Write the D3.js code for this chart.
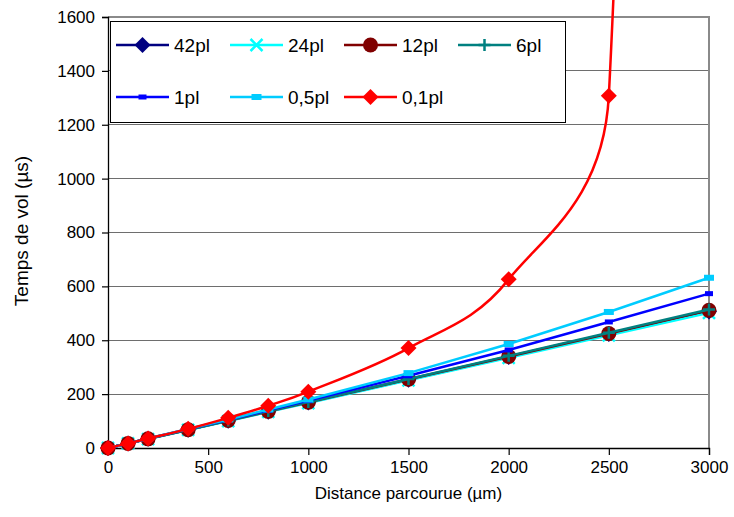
<!DOCTYPE html>
<html>
<head>
<meta charset="utf-8">
<script src="https://cdn.jsdelivr.net/npm/d3@7"></script>
<style>
  html, body { margin: 0; padding: 0; background: #fff; }
  svg { display: block; font-family: Arial, "Liberation Sans", sans-serif; }
</style>
</head>
<body>
<svg id="chart" width="734" height="517"></svg>
<script>
// ---------- data ----------
const distances = [0, 100, 200, 400, 600, 800, 1000, 1500, 2000, 2500, 3000];
const pl42  = [0, 17, 34, 68, 101, 135, 169, 253, 338, 423, 507];
const pl24  = [0, 17, 33, 67, 100, 134, 167, 251, 335, 418, 502];
const pl12  = [0, 17, 34, 68, 102, 136, 170, 255, 340, 425, 511];
const pl6   = [0, 17, 34, 68, 102, 137, 171, 256, 342, 428, 514];
const pl1   = [0, 17, 35, 70, 105, 140, 176, 268, 364, 468, 573];
const pl05  = [0, 17, 35, 71, 106, 143, 180, 278, 386, 505, 632];
const pl01  = [0, 17, 35, 71, 112, 157, 209, 371, 626, 1308, 15000];
const seriesNames = ["42pl", "24pl", "12pl", "6pl", "1pl", "0,5pl", "0,1pl"];
const xTicks = [0, 500, 1000, 1500, 2000, 2500, 3000];
const yTicks = [0, 200, 400, 600, 800, 1000, 1200, 1400, 1600];
const xTitle = "Distance parcourue (µm)";
const yTitle = "Temps de vol (µs)";

const series = [
  { name: seriesNames[0], values: pl42, color: "#000080", marker: "diamond", smooth: false },
  { name: seriesNames[1], values: pl24, color: "#00FFFF", marker: "x",       smooth: false },
  { name: seriesNames[2], values: pl12, color: "#800000", marker: "circle",  smooth: false },
  { name: seriesNames[3], values: pl6,  color: "#008080", marker: "plus",    smooth: false },
  { name: seriesNames[4], values: pl1,  color: "#0000FF", marker: "rectS",   smooth: false },
  { name: seriesNames[5], values: pl05, color: "#00CCFF", marker: "rectL",   smooth: false },
  { name: seriesNames[6], values: pl01, color: "#FF0000", marker: "diamond", smooth: true }
];

// ---------- layout ----------
const L = 108, R = 709, T = 17, B = 448;
const svg = d3.select("#chart");
const x = d3.scaleLinear().domain([0, 3000]).range([L, R]);
const y = d3.scaleLinear().domain([0, 1600]).range([B, T]);

// Excel-like smoothing curve (Bezier, 1/6 tangent arms, limited by segment length)
function excelSmooth(context) {
  let pts;
  return {
    areaStart() {}, areaEnd() {},
    lineStart() { pts = []; },
    point(px, py) { pts.push([+px, +py]); },
    lineEnd() {
      const n = pts.length;
      if (!n) return;
      context.moveTo(pts[0][0], pts[0][1]);
      for (let i = 0; i < n - 1; i++) {
        const p0 = pts[Math.max(i - 1, 0)], p1 = pts[i], p2 = pts[i + 1], p3 = pts[Math.min(i + 2, n - 1)];
        const seg = Math.hypot(p2[0] - p1[0], p2[1] - p1[1]);
        const arm = (a, b) => {
          let dx = (b[0] - a[0]) / 6, dy = (b[1] - a[1]) / 6;
          const len = Math.hypot(dx, dy), lim = seg * 0.5;
          if (len > lim && len > 0) { dx *= lim / len; dy *= lim / len; }
          return [dx, dy];
        };
        const a1 = arm(p0, p2), a2 = arm(p1, p3);
        context.bezierCurveTo(p1[0] + a1[0], p1[1] + a1[1], p2[0] - a2[0], p2[1] - a2[1], p2[0], p2[1]);
      }
    }
  };
}

// gridlines
svg.append("g").selectAll("line").data(yTicks.filter(v => v > 0 && v < 1600)).join("line")
  .attr("x1", L).attr("x2", R).attr("y1", d => y(d)).attr("y2", d => y(d))
  .attr("stroke", "#6e6e6e").attr("stroke-width", 1).attr("shape-rendering", "crispEdges");

// plot border (top & right grey)
svg.append("line").attr("x1", L).attr("x2", R + 1).attr("y1", T).attr("y2", T)
  .attr("stroke", "#8a8a8a").attr("stroke-width", 2);
svg.append("line").attr("x1", R).attr("x2", R).attr("y1", T).attr("y2", B)
  .attr("stroke", "#8a8a8a").attr("stroke-width", 2);

// axes
const xAxis = d3.axisBottom(x).tickValues(xTicks).tickSize(7).tickPadding(6).tickFormat(d3.format("d"));
const yAxis = d3.axisLeft(y).tickValues(yTicks).tickSize(6).tickPadding(7).tickFormat(d3.format("d"));
const gx = svg.append("g").attr("transform", `translate(0,${B})`).call(xAxis);
const gy = svg.append("g").attr("transform", `translate(${L},0)`).call(yAxis);
[gx, gy].forEach(g => {
  g.select(".domain").attr("stroke", "#000").attr("stroke-width", 1.3);
  g.selectAll(".tick line").attr("stroke", "#000").attr("stroke-width", 1.2);
  g.selectAll(".tick text").attr("font-size", 17).attr("fill", "#000")
    .attr("font-family", "Arial, 'Liberation Sans', sans-serif");
});

// axis titles
svg.append("text").attr("x", (L + R) / 2).attr("y", 499).attr("text-anchor", "middle")
  .attr("font-size", 17).text(xTitle);
svg.append("text").attr("transform", `translate(28,231) rotate(-90)`)
  .attr("text-anchor", "middle").attr("font-size", 19).text(yTitle);

// marker drawing
function drawMarker(g, type, color) {
  switch (type) {
    case "diamond":
      g.append("path").attr("d", "M0,-8L8,0L0,8L-8,0Z").attr("fill", color); break;
    case "circle":
      g.append("circle").attr("r", 7.5).attr("fill", color); break;
    case "x":
      g.append("path").attr("d", "M-6,-6L6,6M-6,6L6,-6").attr("stroke", color).attr("stroke-width", 2.5).attr("fill", "none"); break;
    case "plus":
      g.append("path").attr("d", "M-6,0L6,0M0,-6L0,6").attr("stroke", color).attr("stroke-width", 2.5).attr("fill", "none"); break;
    case "rectS":
      g.append("rect").attr("x", -4).attr("y", -2.5).attr("width", 8).attr("height", 5).attr("fill", color); break;
    case "rectL":
      g.append("rect").attr("x", -5).attr("y", -3).attr("width", 10).attr("height", 6).attr("fill", color); break;
  }
}

// series
series.forEach(s => {
  const data = distances.map((d, i) => [d, s.values[i]]);
  const line = d3.line().x(d => x(d[0])).y(d => y(d[1]))
    .curve(s.smooth ? excelSmooth : d3.curveLinear);
  const g = svg.append("g");
  g.append("path").attr("d", line(data)).attr("fill", "none")
    .attr("stroke", s.color).attr("stroke-width", 2.5).attr("stroke-linejoin", "round");
  data.forEach(d => {
    const mg = g.append("g").attr("transform", `translate(${x(d[0])},${y(d[1])})`);
    drawMarker(mg, s.marker, s.color);
  });
});

// legend
const leg = svg.append("g");
leg.append("rect").attr("x", 110.5).attr("y", 21.5).attr("width", 455).attr("height", 101)
  .attr("fill", "#fff").attr("stroke", "#000").attr("stroke-width", 1);
const colX = [116, 230, 344, 458];
const rowY = [45, 97];
series.forEach((s, i) => {
  const cx = colX[i % 4], cy = rowY[Math.floor(i / 4)];
  const g = leg.append("g").attr("transform", `translate(${cx},${cy})`);
  g.append("line").attr("x1", 0).attr("x2", 53).attr("y1", 0).attr("y2", 0)
    .attr("stroke", s.color).attr("stroke-width", 2.5);
  drawMarker(g.append("g").attr("transform", "translate(26.5,0)"), s.marker, s.color);
  g.append("text").attr("x", 58).attr("y", 0).attr("dy", "0.36em")
    .attr("font-size", 19).text(s.name);
});
</script>
</body>
</html>
